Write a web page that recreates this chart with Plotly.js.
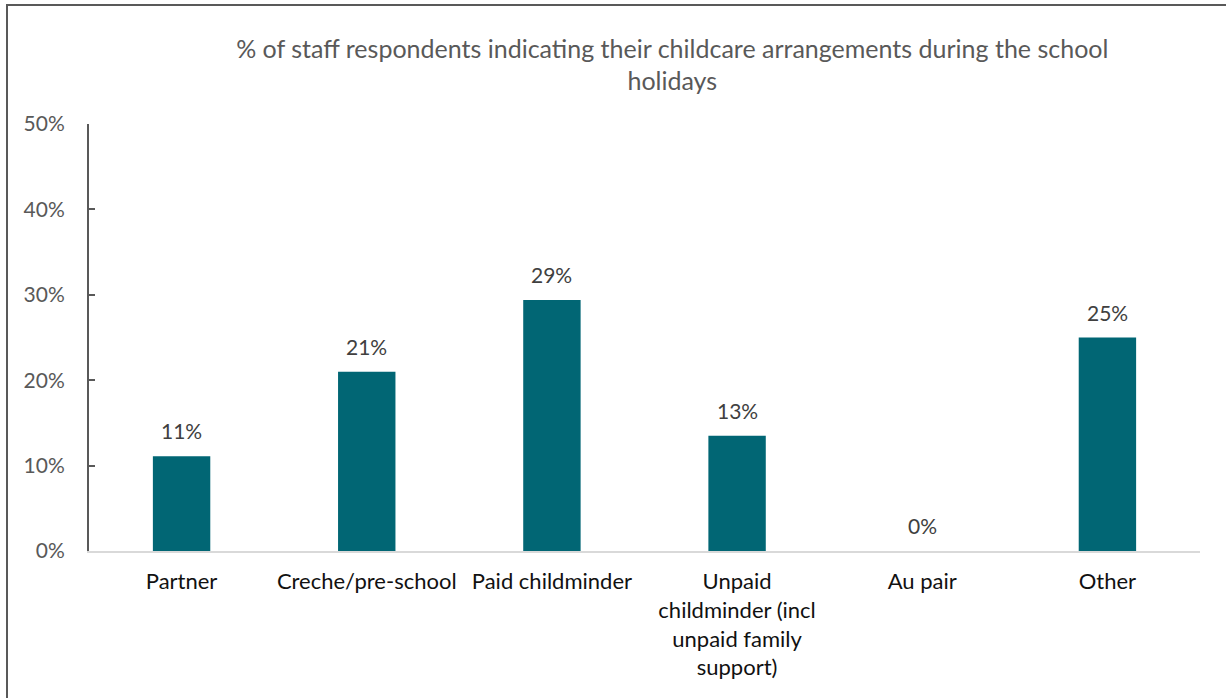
<!DOCTYPE html>
<html>
<head>
<meta charset="utf-8">
<script src="https://cdn.plot.ly/plotly-3.0.1.min.js"></script>
<style>
  html, body { margin: 0; padding: 0; background: #fff; }
  #frame { position: absolute; left: 6px; top: 4px; width: 1240px; height: 720px;
           border-left: 2px solid #595959; border-top: 2px solid #595959; box-sizing: border-box; }
  #chart { position: absolute; left: 0; top: 0; width: 1226px; height: 698px; }
</style>
</head>
<body>
<div id="frame"></div>
<div id="chart"></div>
<script>
const categories = ["Partner", "Creche/pre-school", "Paid childminder",
  "Unpaid<br>childminder (incl<br>unpaid family<br>support)", "Au pair", "Other"];
const values = [11.1, 21.0, 29.4, 13.5, 0, 25.0];
const valueLabels = ["11%", "21%", "29%", "13%", "0%", "25%"];
const yTickVals = [0, 10, 20, 30, 40, 50];
const yTickText = ["0%", "10%", "20%", "30%", "40%", "50%"];
const titleText = "% of staff respondents indicating their childcare arrangements during the school<br>holidays";

const font = "Lato, 'Open Sans', sans-serif";

const trace = {
  type: "bar",
  x: categories,
  y: values,
  marker: { color: "#016674", line: { width: 0 } },
  hoverinfo: "skip"
};

const annotations = categories.map((c, i) => ({
  x: c, y: values[i], xref: "x", yref: "y",
  text: valueLabels[i], showarrow: false,
  yanchor: "bottom", yshift: 11,
  font: { family: font, size: 21, color: "#404040" }
}));

const layout = {
  width: 1226, height: 698,
  paper_bgcolor: "rgba(0,0,0,0)", plot_bgcolor: "rgba(0,0,0,0)",
  margin: { l: 89, r: 26, t: 124, b: 147 },
  bargap: 0.69,
  showlegend: false,
  title: {
    text: titleText,
    x: 0.525, xanchor: "center", xref: "paper",
    y: 0.917, yanchor: "top",
    font: { family: font, size: 25, color: "#595959" }
  },
  xaxis: {
    type: "category",
    showline: true, linecolor: "#d9d9d9", linewidth: 2,
    ticks: "", showgrid: false, zeroline: false,
    tickfont: { family: font, size: 22, color: "#111111" },
    ticklabelstandoff: 10,
    automargin: false
  },
  yaxis: {
    range: [0, 50],
    tickvals: yTickVals, ticktext: yTickText,
    showline: true, linecolor: "#595959", linewidth: 2,
    ticks: "inside", ticklen: 6, tickwidth: 2, tickcolor: "#595959",
    showgrid: false, zeroline: false,
    tickfont: { family: font, size: 21, color: "#595959" },
    ticklabelstandoff: 18,
    automargin: false
  },
  annotations: annotations
};

Plotly.newPlot("chart", [trace], layout, { staticPlot: true, displayModeBar: false });
</script>
</body>
</html>
